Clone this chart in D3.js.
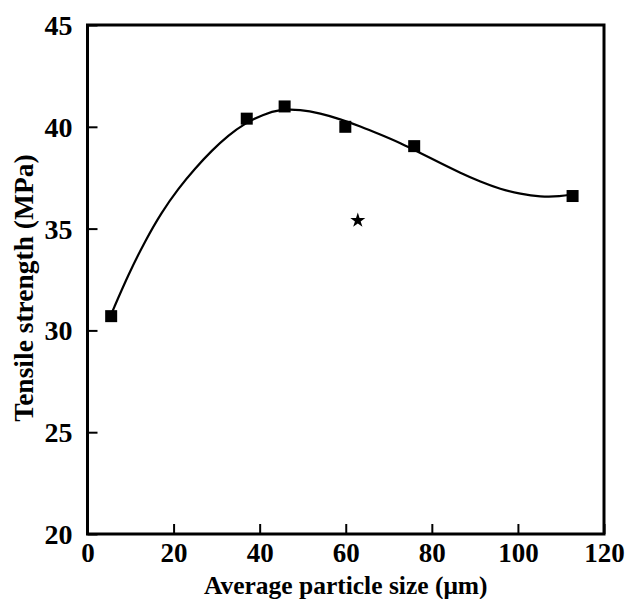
<!DOCTYPE html>
<html><head><meta charset="utf-8">
<script src="https://cdn.jsdelivr.net/npm/d3@7"></script>
<style>body{margin:0;background:#fff}</style>
</head><body>
<svg id="c" width="628" height="599"></svg>
<script>
// Data
const particleSize = [5.5, 37.0, 45.8, 59.9, 75.9, 112.7];
const tensileStrength = [30.7, 40.4, 41.0, 40.0, 39.05, 36.6];
const starPoint = [{x: 62.8, y: 35.4}];
// fitted curve
const curveX = [5.6, 9.5, 13.4, 17.2, 21.1, 25.0, 28.9, 32.7, 36.6, 40.7, 44.8, 49.4, 54.1, 58.7, 63.4, 68.0, 72.7, 77.3, 82.0, 86.6, 91.3, 95.9, 100.6, 105.2, 109.9, 112.7];
const curveY = [30.84, 32.75, 34.4, 35.8, 36.97, 37.96, 38.84, 39.58, 40.17, 40.6, 40.86, 40.85, 40.66, 40.38, 40.02, 39.62, 39.2, 38.72, 38.22, 37.74, 37.3, 36.94, 36.7, 36.56, 36.58, 36.68];
const xTicks = [0, 20, 40, 60, 80, 100, 120];
const yTicks = [20, 25, 30, 35, 40, 45];

const svg = d3.select("#c");
const m = {l: 87.5, r: 604, t: 25, b: 534};
const x = d3.scaleLinear().domain([0, 120]).range([m.l, m.r]);
const y = d3.scaleLinear().domain([20, 45]).range([m.b, m.t]);
const font = "'Liberation Serif','Times New Roman',serif";

// frame
svg.append("rect").attr("x", m.l).attr("y", m.t).attr("width", m.r - m.l).attr("height", m.b - m.t)
  .attr("fill", "none").attr("stroke", "#000").attr("stroke-width", 3);

// axes
const xa = svg.append("g").attr("transform", `translate(0,${m.b})`)
  .call(d3.axisBottom(x).tickValues(xTicks).tickSize(-10).tickPadding(11).tickFormat(d3.format("d")));
const ya = svg.append("g").attr("transform", `translate(${m.l},0)`)
  .call(d3.axisLeft(y).tickValues(yTicks).tickSize(-10).tickPadding(15).tickFormat(d3.format("d")));
[xa, ya].forEach(g => {
  g.select(".domain").remove();
  g.selectAll(".tick line").attr("stroke", "#000").attr("stroke-width", 2);
  g.selectAll(".tick text").attr("font-family", font).attr("font-weight", "bold")
    .attr("font-size", 28).attr("fill", "#000");
});
xa.selectAll(".tick text").attr("font-size", 27).attr("dy", "0.64em");
ya.selectAll(".tick text").attr("dy", "0.34em");

// curve
const pts = curveX.map((d, i) => [d, curveY[i]]);
svg.append("path").datum(pts)
  .attr("d", d3.line().x(d => x(d[0])).y(d => y(d[1])).curve(d3.curveBasis))
  .attr("fill", "none").attr("stroke", "#000").attr("stroke-width", 2.2);

// squares
const s = 12;
svg.append("g").selectAll("rect").data(particleSize.map((d, i) => ({x: d, y: tensileStrength[i]})))
  .join("rect").attr("x", d => x(d.x) - s / 2).attr("y", d => y(d.y) - s / 2)
  .attr("width", s).attr("height", s).attr("fill", "#000");

// star
svg.append("g").selectAll("path").data(starPoint).join("path")
  .attr("d", d3.symbol().type(d3.symbolStar).size(70))
  .attr("transform", d => `translate(${x(d.x)},${y(d.y)})`).attr("fill", "#000");

// titles
svg.append("text").attr("x", (m.l + m.r) / 2).attr("y", 593.5).attr("text-anchor", "middle")
  .attr("font-family", font).attr("font-weight", "bold").attr("font-size", 25.5).attr("fill", "#000")
  .text("Average particle size (μm)");
svg.append("text").attr("transform", "translate(33,288) rotate(-90)").attr("text-anchor", "middle")
  .attr("font-family", font).attr("font-weight", "bold").attr("font-size", 27.5).attr("fill", "#000")
  .text("Tensile strength (MPa)");
</script>
</body></html>
